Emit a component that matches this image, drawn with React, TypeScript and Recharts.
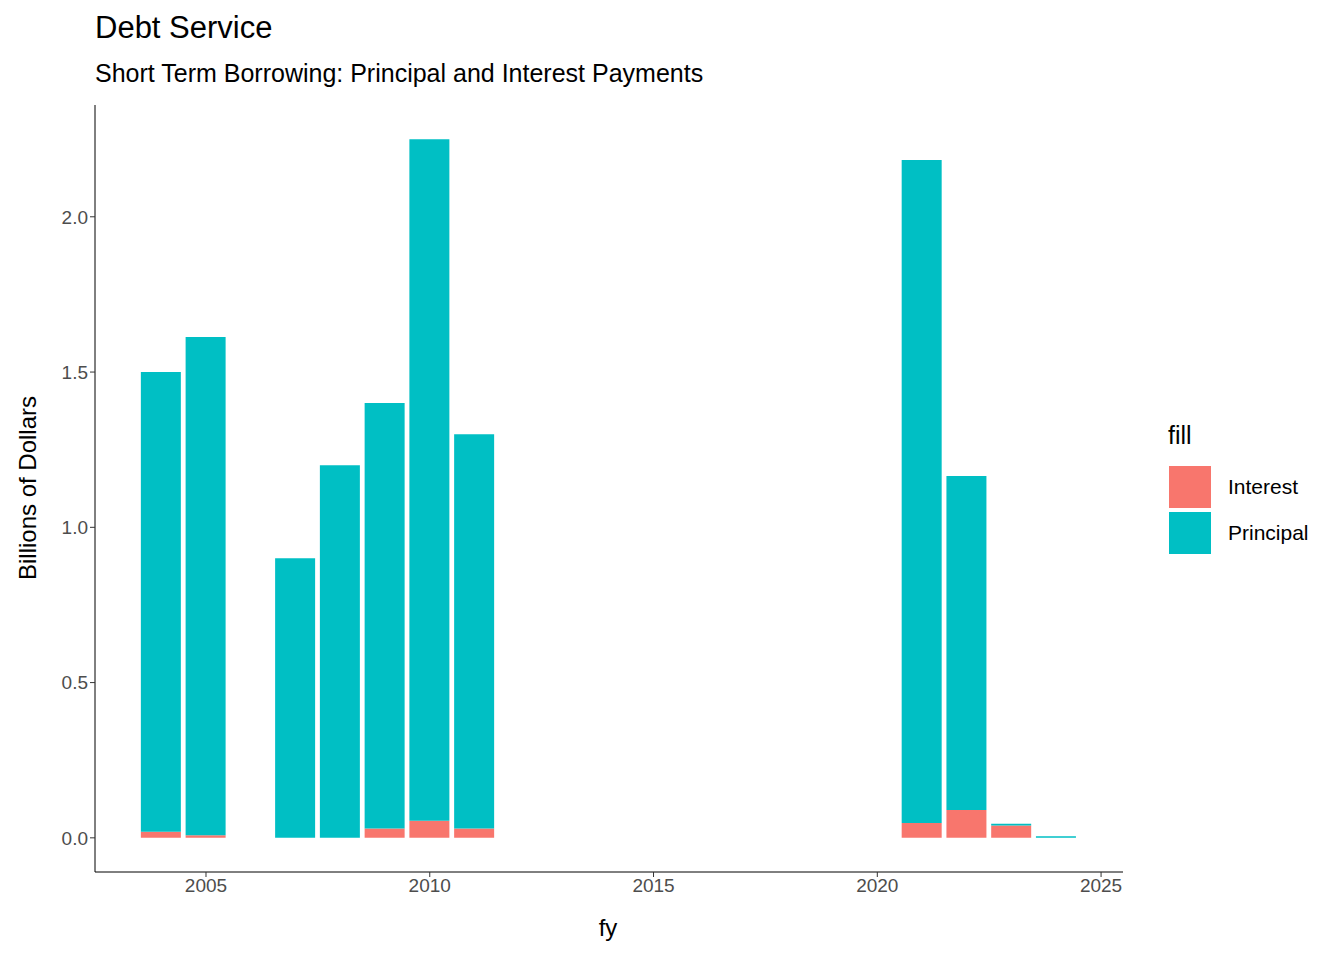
import { BarChart, Bar, XAxis, YAxis } from "recharts";

const years = [2004, 2005, 2007, 2008, 2009, 2010, 2011, 2021, 2022, 2023, 2024];
const interest = [0.02, 0.008, 0, 0, 0.03, 0.055, 0.03, 0.048, 0.09, 0.04, 0];
const principal = [1.48, 1.605, 0.9, 1.2, 1.37, 2.195, 1.27, 2.135, 1.075, 0.005, 0.005];
const xTicks = [2005, 2010, 2015, 2020, 2025];
const yTicks = [0, 0.5, 1.0, 1.5, 2.0];

const data = years.map((fy, i) => ({ fy, Interest: interest[i], Principal: principal[i] }));

const font = "'Liberation Sans', Arial, sans-serif";
const tickStyle = { fill: "#4d4d4d", fontSize: 19, fontFamily: font };

export default function App() {
  return (
    <div style={{ position: "relative", width: 1344, height: 960, background: "#fff", margin: -8, fontFamily: font }}>
      <div style={{ position: "absolute", left: 95, top: 10, fontSize: 31 }}>Debt Service</div>
      <div style={{ position: "absolute", left: 95, top: 59, fontSize: 25 }}>
        Short Term Borrowing: Principal and Interest Payments
      </div>
      <BarChart
        width={1344}
        height={960}
        data={data}
        margin={{ top: 105, right: 221, left: 35, bottom: 58 }}
      >
        <XAxis
          dataKey="fy"
          type="number"
          domain={[2002.52, 2025.49]}
          ticks={xTicks}
          allowDataOverflow
          height={30}
          stroke="#000"
          tickSize={5}
          tick={tickStyle}
          tickLine={{ stroke: "#333" }}
        />
        <YAxis
          domain={[-0.11, 2.36]}
          ticks={yTicks}
          allowDataOverflow
          width={60}
          stroke="#000"
          tickSize={5}
          tick={tickStyle}
          tickLine={{ stroke: "#333" }}
          tickFormatter={(v: number) => v.toFixed(1)}
        />
        <Bar dataKey="Interest" stackId="a" fill="#F8766D" barSize={40} isAnimationActive={false} />
        <Bar dataKey="Principal" stackId="a" fill="#00BFC4" barSize={40} isAnimationActive={false} />
      </BarChart>
      <div style={{ position: "absolute", left: 608, top: 914, fontSize: 24, transform: "translateX(-50%)" }}>fy</div>
      <div
        style={{
          position: "absolute",
          left: 28,
          top: 488,
          fontSize: 24,
          whiteSpace: "nowrap",
          transform: "translate(-50%, -50%) rotate(-90deg)",
        }}
      >
        Billions of Dollars
      </div>
      <div style={{ position: "absolute", left: 1168, top: 421, fontSize: 25 }}>fill</div>
      {[
        ["Interest", "#F8766D", 466],
        ["Principal", "#00BFC4", 512],
      ].map(([name, color, top]) => (
        <div key={name as string} style={{ position: "absolute", left: 1169, top: top as number, display: "flex", alignItems: "center" }}>
          <div style={{ width: 42, height: 42, background: color as string }} />
          <span style={{ marginLeft: 17, fontSize: 21 }}>{name}</span>
        </div>
      ))}
    </div>
  );
}
